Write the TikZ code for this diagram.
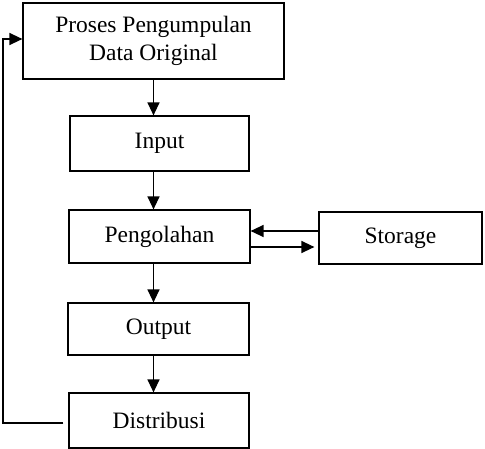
\documentclass[tikz,border=0pt]{standalone}
\usepackage{fontspec}
\setmainfont{Liberation Serif}
\usetikzlibrary{arrows.meta}

\begin{document}
\begin{tikzpicture}
        [
            x = 1pt, y = -1pt,
            box/.style = {draw, line width = 1.2pt, inner sep = 0pt, align = center,
                    font = \fontsize{23.5}{28.5}\selectfont},
            flow/.style = {line width = 1.3pt, -{Triangle[length = 13pt, width = 12pt]}},
        ]

        \useasboundingbox (0,0) rectangle (485,449);

        % main chain
        \node[box, minimum width = 261pt, minimum height = 76pt] (proses) at (153.5,41) {Proses Pengumpulan\\Data Original};
        \node[box, minimum width = 179pt, minimum height = 55pt] (input) at (159.5,143.5) {Input};
        \node[box, minimum width = 181pt, minimum height = 53pt] (olah) at (159.5,236.5) {Pengolahan};
        \node[box, minimum width = 181pt, minimum height = 52pt] (output) at (158.5,329) {Output};
        \node[box, minimum width = 180pt, minimum height = 55pt] (distribusi) at (159,420.5) {Distribusi};
        \node[box, minimum width = 163pt, minimum height = 52pt] (storage) at (400.5,238) {Storage};

        \draw[flow] (proses.south) -- (proses.south |- input.north);
        \draw[flow] (proses.south |- input.south) -- (proses.south |- olah.north);
        \draw[flow] (proses.south |- olah.south) -- (proses.south |- output.north);
        \draw[flow] (proses.south |- output.south) -- (proses.south |- distribusi.north);

        % storage
        \draw[flow] ([yshift = 7pt]storage.west) -- ([yshift = 5.5pt]olah.east);
        \draw[flow, shorten > = 4pt] ([yshift = -10.5pt]olah.east) -- ([yshift = -10.5pt]olah.east -| storage.west);

        % feedback
        \coordinate (kiri) at (3,423);
        \draw[flow, shorten < = 5pt] ([yshift = -2.5pt]distribusi.west) -- (kiri) |- ([yshift = 2pt]proses.west);

    \end{tikzpicture}
\end{document}
